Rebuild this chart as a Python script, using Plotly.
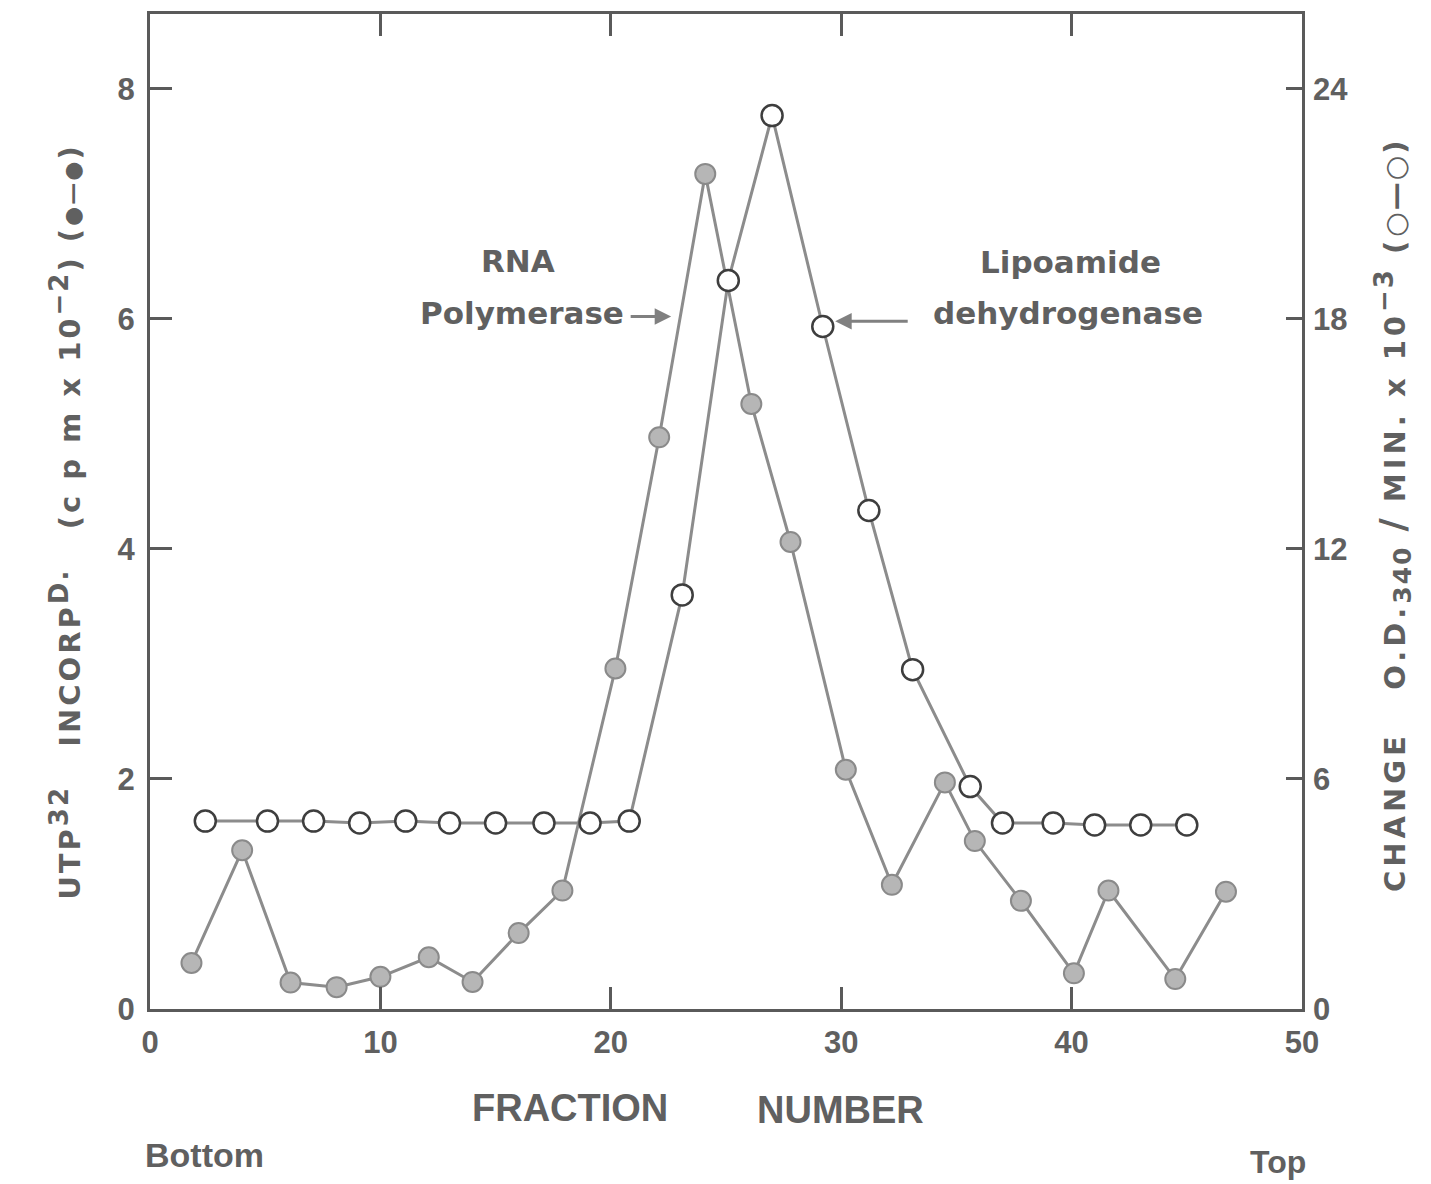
import plotly.graph_objects as go

# Sucrose-gradient fractions: RNA polymerase activity (filled circles, left axis)
fraction_rna = [1.8, 4.0, 6.1, 8.1, 10.0, 12.1, 14.0, 16.0, 17.9, 20.2, 22.1, 24.1,
                26.1, 27.8, 30.2, 32.2, 34.5, 35.8, 37.8, 40.1, 41.6, 44.5, 46.7]
utp_incorp = [0.40, 1.38, 0.23, 0.19, 0.28, 0.45, 0.235, 0.66, 1.03, 2.96, 4.97, 7.26,
              5.26, 4.06, 2.08, 1.08, 1.97, 1.46, 0.94, 0.31, 1.03, 0.26, 1.02]

# Lipoamide dehydrogenase activity (open circles, right axis)
fraction_lipo = [2.4, 5.1, 7.1, 9.1, 11.1, 13.0, 15.0, 17.1, 19.1, 20.8, 23.1,
                 25.1, 27.0, 29.2, 31.2, 33.1, 35.6, 37.0, 39.2, 41.0, 43.0, 45.0]
od_change = [4.9, 4.9, 4.9, 4.85, 4.9, 4.85, 4.85, 4.85, 4.85, 4.9, 10.8,
             19.0, 23.3, 17.8, 13.0, 8.85, 5.8, 4.85, 4.85, 4.8, 4.8, 4.8]

x_ticks = [0, 10, 20, 30, 40, 50]
left_ticks = [0, 2, 4, 6, 8]
right_ticks = [0, 6, 12, 18, 24]

INK = "#5a5a5a"
TEXT = "#606060"
LINE = "#8c8c8c"
NUM_FONT = dict(family="Liberation Sans Narrow, Liberation Sans, Arial", size=31,
                color=TEXT, weight="bold")
TITLE_FONT = dict(family="Liberation Sans, Arial", size=32, color=TEXT, weight="bold")
SIDE_FONT = dict(family="DejaVu Sans, Liberation Sans", size=29, color=TEXT, weight="bold")
ANN_FONT = dict(family="DejaVu Sans, Liberation Sans", size=31, color=TEXT, weight="bold")

NB = "\u00a0"


def seg(s, spacing=3, size=None):
    style = f"letter-spacing:{spacing}px"
    if size:
        style += f";font-size:{size}px"
    return f'<span style="{style}">{s}</span>'


left_title = (
    seg("UTP") + "<sup>" + seg("32", 2, 26) + "</sup>" + seg(NB * 3)
    + seg("INCORP") + "<sup>" + seg("D.", 2, 26) + "</sup>" + seg(NB * 3)
    + seg(f"(c{NB}p{NB}m{NB}x{NB}10") + "<sup>" + seg("−2", 2, 26) + "</sup>"
    + seg(f"){NB}(") + seg("●—●", 2, 22) + seg(")")
)
right_title = (
    seg(f"CHANGE{NB*3}O.D.", 4) + "<sub>" + seg("340", 2, 25) + "</sub>"
    + seg(NB, 4) + seg("/", 2, 36) + seg(f"{NB}MIN.{NB}x{NB}10", 4)
    + "<sup>" + seg("−3", 2, 26) + "</sup>" + seg(f"{NB}(", 4)
    + seg("○—○", 2, 28) + seg(")")
)

fig = go.Figure()

fig.add_trace(go.Scatter(
    x=fraction_rna, y=utp_incorp, mode="lines+markers", yaxis="y",
    line=dict(color=LINE, width=3),
    marker=dict(size=20, color="#b6b6b6", line=dict(color="#8a8a8a", width=2)),
    showlegend=False, cliponaxis=False,
))
fig.add_trace(go.Scatter(
    x=fraction_lipo, y=od_change, mode="lines+markers", yaxis="y2",
    line=dict(color=LINE, width=3),
    marker=dict(size=21, color="white", line=dict(color="#3e3e3e", width=2.5)),
    showlegend=False, cliponaxis=False,
))

fig.update_layout(
    width=1431, height=1184,
    margin=dict(l=150, r=129, t=14, b=175),
    paper_bgcolor="white", plot_bgcolor="white",
    xaxis=dict(range=[0, 50], tickvals=x_ticks, ticks="inside", ticklen=22,
               tickwidth=2.5, tickcolor=INK, showline=True, linecolor=INK,
               linewidth=3, mirror="ticks", showgrid=False, zeroline=False,
               tickfont=NUM_FONT, ticklabelstandoff=4),
    yaxis=dict(range=[0, 8.65], tickvals=left_ticks, ticks="inside", ticklen=22,
               tickwidth=2.5, tickcolor=INK, showline=True, linecolor=INK,
               linewidth=3, mirror=True, showgrid=False, zeroline=False,
               tickfont=NUM_FONT, ticklabelstandoff=6),
    yaxis2=dict(range=[0, 25.95], tickvals=right_ticks, overlaying="y", side="right",
                ticks="inside", ticklen=16, tickwidth=2.5, tickcolor=INK,
                showline=False, showgrid=False, zeroline=False, tickfont=NUM_FONT,
                ticklabelstandoff=10),
)

# axis titles and end labels, placed in paper coordinates
outer_labels = [
    dict(x=-0.074, y=0.4894, text=left_title, textangle=-90, font=SIDE_FONT),
    dict(x=1.079, y=0.4965, text=right_title, textangle=-90, font=SIDE_FONT),
    dict(x=0.3646, y=-0.0995, text="FRACTION", font=dict(TITLE_FONT, size=38)),
    dict(x=0.5998, y=-0.1015, text="NUMBER", font=dict(TITLE_FONT, size=38)),
    dict(x=0.0477, y=-0.1467, text="Bottom", font=dict(TITLE_FONT, size=34)),
    dict(x=0.979, y=-0.1538, text="Top", font=dict(TITLE_FONT, size=32)),
]
for a in outer_labels:
    a.update(xref="paper", yref="paper", showarrow=False, xanchor="center",
             yanchor="middle")

# peak labels inside the plot
peak_labels = [
    dict(x=15.98, y=6.5, text="RNA"),
    dict(x=16.15, y=6.05, text="Polymerase"),
    dict(x=39.95, y=6.49, text="Lipoamide"),
    dict(x=39.86, y=6.05, text="dehydrogenase"),
]
for a in peak_labels:
    a.update(xref="x", yref="y", showarrow=False, xanchor="center", yanchor="middle",
             font=ANN_FONT)

arrows = [
    dict(x=22.62, y=6.02, ax=-42, ay=0),
    dict(x=29.74, y=5.98, ax=74, ay=0),
]
for a in arrows:
    a.update(xref="x", yref="y", text="", showarrow=True,
             arrowhead=2, arrowsize=1.1, arrowwidth=3, arrowcolor="#808080")

fig.update_layout(annotations=outer_labels + peak_labels + arrows)

fig.write_html("out.html")
